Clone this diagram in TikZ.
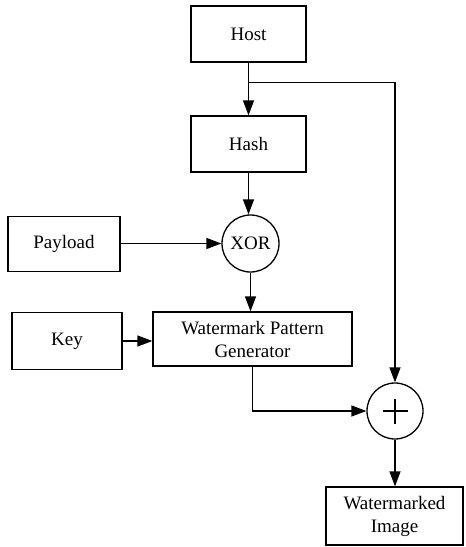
\documentclass[tikz,border=0pt]{standalone}
\usepackage{fontspec}
\setmainfont{Liberation Serif}
\usetikzlibrary{arrows.meta}
\begin{document}
\begin{tikzpicture}[x=1pt,y=-1pt,
  every node/.style={font=\fontsize{19}{23}\selectfont, inner sep=0pt, align=center},
  blockbox/.style={draw, line width=1.3pt, rectangle},
  opcircle/.style={draw, line width=1.3pt, circle, minimum size=56pt},
  flow/.style={line width=1.3pt, -{Triangle[length=15pt,width=11pt]}}]
\useasboundingbox (0,0) rectangle (466,547);
% blocks
\node[blockbox, minimum width=115pt, minimum height=56pt] (host) at (248.5,34) {Host};
\node[blockbox, minimum width=115pt, minimum height=56pt] (hash) at (248.5,144) {Hash};
\node[blockbox, minimum width=112pt, minimum height=55pt] (payload) at (64,244) {Payload};
\node[opcircle, minimum size=57pt] (xor) at (250.5,243.5) {XOR};
\node[blockbox, minimum width=110pt, minimum height=57pt] (key) at (67,341) {Key};
\node[blockbox, minimum width=199pt, minimum height=54pt] (wpg) at (252.5,339) {Watermark Pattern\\Generator};
\node[opcircle, path picture={
    \draw[line width=1.7pt] ([xshift=-12.5pt]path picture bounding box.center) -- ([xshift=12.5pt]path picture bounding box.center);
    \draw[line width=1.7pt] ([yshift=-12.5pt]path picture bounding box.center) -- ([yshift=12.5pt]path picture bounding box.center);
  }] (plus) at (395,411) {};
\node[blockbox, minimum width=137pt, minimum height=58pt] (wimg) at (394.5,516) {Watermarked\\Image};
% connectors
\coordinate (split) at ([yshift=-20pt]host.south);
\draw[flow] (host.south) -- (hash.north);
\draw[flow] (split) -| (plus.north);
\draw[flow] (hash.south) -- (hash.south |- xor.north);
\draw[flow] (payload.east |- xor.west) -- (xor.west);
\draw[flow] (xor.south) -- (xor.south |- wpg.north);
\draw[flow] (key.east) -- (key.east -| wpg.west);
\draw[flow] (wpg.south) |- (plus.west);
\draw[flow] (plus.south) -- (plus.south |- wimg.north);
\end{tikzpicture}
\end{document}
